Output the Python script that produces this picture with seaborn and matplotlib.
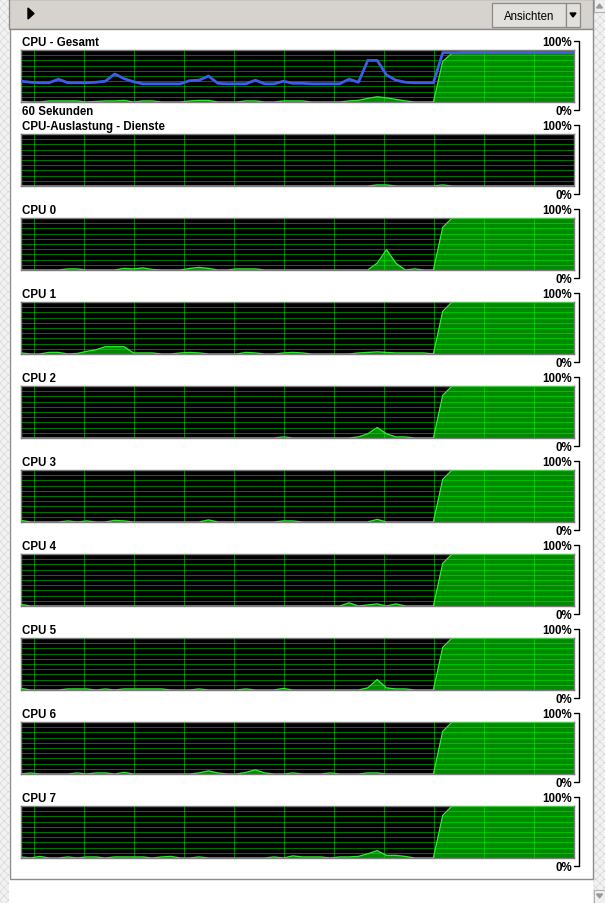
import numpy as np
import matplotlib
matplotlib.use("Agg")
import matplotlib.pyplot as plt
import seaborn as sns
from matplotlib.patches import Rectangle, Polygon
from matplotlib.lines import Line2D

# data: 60 samples (one per second), percent
n_samples = 60
panel_titles = ["CPU - Gesamt", "CPU-Auslastung - Dienste", "CPU 0", "CPU 1", "CPU 2",
                "CPU 3", "CPU 4", "CPU 5", "CPU 6", "CPU 7"]
top_label = "100%"
bottom_label = "0%"
time_label = "60 Sekunden"
button_label = "Ansichten"

ramp = [0, 82, 100] + [100] * 13

gesamt_freq = [40, 38, 37, 37, 44, 37, 37, 37, 38, 40, 54, 45, 39, 35, 35, 35, 35, 35, 41, 42,
               50, 36, 35, 35, 35, 42, 35, 35, 40, 36, 36, 35, 35, 35, 35, 44, 38, 80, 80, 52,
               42, 38, 37, 37, 37] + [95] * 15
gesamt_load = [1, 0, 0, 2, 2, 2, 2, 0, 1, 2, 2, 3, 0, 2, 2, 0, 0, 0, 2, 3,
               3, 0, 0, 0, 2, 2, 0, 0, 2, 2, 2, 0, 0, 0, 0, 2, 3, 7, 10, 8,
               5, 2, 0, 0, 0, 78, 94] + [96] * 13
dienste_load = [0] * 38 + [2, 2] + [0] * 5 + [2] + [0] * 14
cpu0_load = [0, 0, 0, 0, 0, 2, 2, 0, 0, 0, 0, 3, 2, 4, 1, 0, 0, 0, 3, 5,
             3, 0, 0, 2, 2, 2, 0, 0, 0, 0, 0, 0, 0, 0, 0, 0, 0, 0, 13, 39,
             13, 0, 2, 0] + ramp
cpu1_load = [2, 0, 0, 3, 3, 0, 1, 5, 8, 14, 14, 14, 2, 2, 2, 0, 0, 2, 3, 2,
             0, 0, 0, 0, 3, 2, 0, 0, 2, 3, 2, 0, 0, 0, 0, 0, 2, 3, 4, 3,
             2, 2, 2, 2] + ramp
cpu2_load = [0] * 28 + [2] + [0] * 7 + [2, 8, 20, 8, 2, 2, 0, 0] + ramp
cpu3_load = [3, 0, 0, 0, 0, 2, 0, 2, 0, 0, 3, 2, 0, 0, 0, 0, 0, 0, 0, 0,
             4, 0, 0, 0, 0, 0, 0, 0, 2, 2, 0, 0, 0, 0, 0, 0, 0, 0, 5, 0,
             0, 0, 0, 0] + ramp
cpu4_load = [3] + [0] * 34 + [6, 0, 2, 4, 0, 4, 0, 0, 0] + ramp
cpu5_load = [3, 0, 0, 0, 0, 2, 2, 2, 0, 2, 0, 2, 2, 2, 2, 2, 0, 0, 0, 2,
             0, 0, 0, 0, 2, 0, 0, 0, 3, 0, 0, 0, 0, 0, 0, 0, 0, 4, 20, 4,
             2, 2, 0, 0] + ramp
cpu6_load = [0, 2, 0, 0, 0, 0, 2, 0, 2, 2, 0, 3, 0, 0, 0, 0, 0, 0, 0, 2,
             6, 2, 0, 0, 3, 8, 2, 0, 0, 2, 0, 0, 0, 2, 0, 0, 0, 2, 2, 0,
             0, 0, 0, 0] + ramp
cpu7_load = [2, 0, 3, 0, 0, 2, 0, 2, 2, 0, 2, 2, 2, 2, 0, 2, 3, 0, 0, 2,
             0, 0, 0, 0, 0, 0, 0, 2, 0, 4, 2, 2, 2, 0, 2, 2, 3, 8, 14, 5,
             5, 3, 0, 0] + ramp

loads = [gesamt_load, dienste_load, cpu0_load, cpu1_load, cpu2_load,
         cpu3_load, cpu4_load, cpu5_load, cpu6_load, cpu7_load]

W, H = 605, 904
sns.set_theme(style="dark")
plt.rcParams["font.family"] = ["Liberation Sans", "DejaVu Sans"]
plt.rcParams["hatch.linewidth"] = 0.4

fig = plt.figure(figsize=(W / 100, H / 100), dpi=100, facecolor="white")


def fx(x):
    return x / W


def fy(y):
    return 1 - y / H


def frect(x, y, w, h, **kw):
    kw.setdefault("zorder", -5)
    fig.patches.append(Rectangle((fx(x), fy(y + h)), w / W, h / H,
                                 transform=fig.transFigure, figure=fig, **kw))


def ftri(pts, **kw):
    fig.patches.append(Polygon([[fx(a), fy(b)] for a, b in pts], closed=True,
                               transform=fig.transFigure, **kw))


def fline(xs, ys, **kw):
    fig.add_artist(Line2D([fx(v) for v in xs], [fy(v) for v in ys],
                          transform=fig.transFigure, **kw))


# window chrome
frect(0, 0, 9, H, facecolor="#f2f2f2", edgecolor="#d2d2d2", hatch="xxxx", lw=0)
frect(593, 0, 12, H, facecolor="#f2f2f2", edgecolor="#d2d2d2", hatch="xxxx", lw=0)
frect(594, 0, 11, 13, facecolor="#f0f0f0", edgecolor="#b0b0b0", lw=0.8, zorder=-4)
frect(594, 891, 11, 13, facecolor="#f0f0f0", edgecolor="#b0b0b0", lw=0.8, zorder=-4)
ftri([(596.5, 9), (602.5, 9), (599.5, 5)], color="#9a9a9a")
ftri([(596.5, 895), (602.5, 895), (599.5, 899)], color="#9a9a9a")
frect(9, 0, 584, 30, facecolor="#d6d3ce", edgecolor="#8c8c8c", lw=1, zorder=-4)
frect(10, 30, 583, 850, facecolor="white", edgecolor="#8c8c8c", lw=1, zorder=-4)

# header controls
ftri([(28, 9), (28, 20), (34, 14.5)], color="black")
frect(492, 4, 74, 24, facecolor="#e2e0dc", edgecolor="#8a8a8a", lw=0.9, zorder=-3)
frect(566, 4, 14, 24, facecolor="#e2e0dc", edgecolor="#8a8a8a", lw=0.9, zorder=-3)
fig.text(fx(529), fy(16.5), button_label, ha="center", va="center", fontsize=8.3, color="black")
ftri([(570, 14), (576, 14), (573, 18)], color="black")

idx = np.arange(n_samples)
grid_x = [1.39 + 5.335 * k for k in range(11)]

for k, (title, load) in enumerate(zip(panel_titles, loads)):
    top = 51 + 84 * k
    ax = fig.add_axes([fx(21), fy(top + 52), 553 / W, 52 / H])
    ax.set_zorder(2)
    ax.set_facecolor("black")
    vals = np.array(load, dtype=float)
    ax.fill_between(idx, vals, 0, color="#008a00", lw=0, zorder=1)
    sns.lineplot(x=idx, y=vals, ax=ax, color="#30e830", lw=1.0, zorder=3)
    if k == 0:
        sns.lineplot(x=idx, y=np.array(gesamt_freq, dtype=float), ax=ax,
                     color="#3a5ee8", lw=2.0, zorder=4)
    ax.set_xlim(0, n_samples - 1)
    ax.set_ylim(0, 100)
    ax.set_xticks(grid_x)
    ax.set_yticks(range(10, 100, 10))
    ax.grid(True, color="#00ff00", alpha=0.45, lw=0.75)
    ax.set_axisbelow(False)
    ax.tick_params(length=0, labelbottom=False, labelleft=False)
    ax.set_xlabel("")
    ax.set_ylabel("")
    for sp in ax.spines.values():
        sp.set_visible(True)
        sp.set_color("#7c7c7c")
        sp.set_linewidth(1.0)

    fig.text(fx(22), fy(top - 5), title, ha="left", va="baseline",
             fontsize=8.3, fontweight="bold", color="black")
    fig.text(fx(572), fy(top - 5), top_label, ha="right", va="baseline",
             fontsize=8.3, fontweight="bold", color="black")
    fig.text(fx(572), fy(top + 64), bottom_label, ha="right", va="baseline",
             fontsize=8.3, fontweight="bold", color="black")
    if k == 0:
        fig.text(fx(22), fy(top + 64), time_label, ha="left", va="baseline",
                 fontsize=8.3, fontweight="bold", color="black")
    # bracket on the right
    fline([574, 578.5, 578.5, 574], [top - 9, top - 9, top + 60, top + 60],
          color="black", lw=1.0)

fig.savefig("out.png", dpi=100, facecolor="white")
